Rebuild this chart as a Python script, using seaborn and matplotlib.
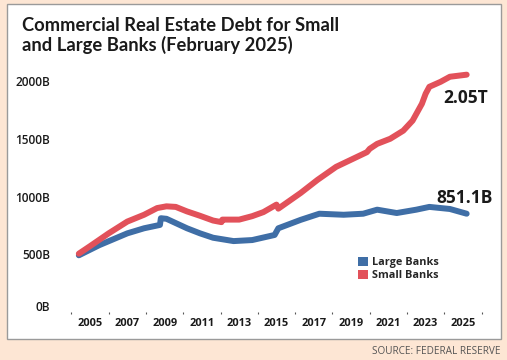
import matplotlib
matplotlib.use("Agg")
import matplotlib.pyplot as plt
import matplotlib.transforms as mtransforms
from matplotlib.patches import Rectangle, Patch
import seaborn as sns
import pandas as pd

# ---- data ----
small_years = [2004.4, 2005.0, 2006.0, 2007.0, 2007.9, 2008.6, 2009.1, 2009.6, 2010.2,
               2010.9, 2011.6, 2012.05, 2012.1, 2013.0, 2013.7, 2014.3, 2015.0, 2015.1,
               2016.3, 2017.2, 2018.2, 2019.85, 2020.0, 2020.4, 2021.1, 2021.8, 2022.3,
               2022.8, 2023.0, 2023.2, 2023.8, 2024.3, 2025.2]
small_values = [505, 570, 681, 783, 842, 900, 915, 910, 871,
                833, 792, 778, 800, 800, 830, 865, 930, 895,
                1031, 1144, 1257, 1384, 1413, 1456, 1500, 1570, 1657,
                1803, 1890, 1950, 1993, 2037, 2055]
large_years = [2004.4, 2005.5, 2007.0, 2007.9, 2008.75, 2008.8, 2009.1, 2010.2, 2010.9,
               2011.6, 2012.7, 2013.7, 2014.9, 2015.1, 2016.3, 2017.3, 2018.6, 2019.65,
               2020.4, 2021.45, 2022.5, 2023.2, 2024.3, 2025.2]
large_values = [491, 579, 681, 725, 754, 812, 807, 725, 681,
                643, 614, 623, 667, 725, 798, 851, 842, 851,
                886, 857, 886, 910, 892, 851.1]
series_names = ["Large Banks", "Small Banks"]
colors = {"Large Banks": "#3f6ea6", "Small Banks": "#e2515a"}
y_ticks = [0, 500, 1000, 1500, 2000]
y_tick_labels = ["0B", "500B", "1000B", "1500B", "2000B"]
x_major = list(range(2005, 2026, 2))
x_minor = list(range(2004, 2027, 2))
end_labels = {"Small Banks": "2.05T", "Large Banks": "851.1B"}
title = "Commercial Real Estate Debt for Small\nand Large Banks (February 2025)"
source = "SOURCE: FEDERAL RESERVE"

df = pd.concat([
    pd.DataFrame({"year": large_years, "value": large_values, "series": "Large Banks"}),
    pd.DataFrame({"year": small_years, "value": small_values, "series": "Small Banks"}),
])

sns.set_theme(style="white")
plt.rcParams["font.family"] = ["Open Sans", "DejaVu Sans"]

W, H = 507, 360
fig = plt.figure(figsize=(W / 100, H / 100), dpi=100)
fig.patch.set_facecolor("#fde6d4")

panel = Rectangle((7 / W, 1 - 339 / H), (501 - 7) / W, (339 - 4) / H,
                  transform=fig.transFigure, facecolor="white",
                  edgecolor="#9a9a9a", linewidth=1.0, zorder=-10)
fig.patches.append(panel)

ax = fig.add_axes([60 / W, 1 - 312 / H, 435 / W, (312 - 63.7) / H])
ax.set_zorder(5)
ax.set_facecolor("none")

sns.lineplot(data=df, x="year", y="value", hue="series", hue_order=series_names,
             palette=colors, linewidth=4.3, legend=False, ax=ax,
             estimator=None, sort=False, solid_capstyle="round")

ax.set_xlim(2003.39, 2026.72)
ax.set_ylim(0, 2150)
for s in ax.spines.values():
    s.set_visible(False)

ax.set_yticks(y_ticks)
ax.set_yticklabels(y_tick_labels)
ax.tick_params(axis="y", length=0, pad=7, labelsize=8.6, labelcolor="#1a1a1a")
ax.set_xticks(x_major)
ax.set_xticklabels([str(y) for y in x_major], fontweight="bold")
ax.set_xticks(x_minor, minor=True)
ax.tick_params(axis="x", which="major", length=2.5, width=0.8, color="#333333",
               direction="out", pad=2, labelsize=7.9, labelcolor="#1a1a1a")
ax.tick_params(axis="x", which="minor", length=1.2, width=0.8, color="#555555",
               direction="out", bottom=True)
for lbl in ax.get_yticklabels():
    lbl.set_fontweight("semibold")
ax.set_xlabel("")
ax.set_ylabel("")
ax.grid(False)

# the "0B" label sits a little above the baseline in the reference
zero_lbl = ax.yaxis.get_major_ticks()[0].label1
zero_lbl.set_transform(zero_lbl.get_transform() +
                       mtransforms.ScaledTranslation(0, 6 / 100, fig.dpi_scale_trans))

# end labels
ax.text(small_years[-1] - 0.05, small_values[-1] - 200, end_labels["Small Banks"],
        ha="center", va="center", fontsize=12.5, fontweight="bold", color="#1a1a1a")
ax.text(large_years[-1] - 0.1, large_values[-1] + 135, end_labels["Large Banks"],
        ha="center", va="center", fontsize=12.5, fontweight="bold", color="#1a1a1a")

handles = [Patch(facecolor=colors[n], edgecolor="none") for n in series_names]
leg = ax.legend(handles, series_names, loc="upper left",
                bbox_to_anchor=((353 - 60) / 435, (312 - 251.5) / (312 - 63.7)),
                frameon=False, handlelength=0.9, handleheight=0.9,
                handletextpad=0.4, labelspacing=0.15, borderpad=0,
                prop={"size": 7.8, "weight": "bold"})

fig.text(22 / W, 1 - 17 / H, title, ha="left", va="top", fontsize=13.2,
         fontweight="bold", color="#1a1a1a", linespacing=1.15,
         family=["Lato", "DejaVu Sans"])
fig.text(500 / W, 1 - 351 / H, source, ha="right", va="center", fontsize=7.2,
         color="#555555")

fig.savefig("out.png", dpi=100, facecolor=fig.get_facecolor())
